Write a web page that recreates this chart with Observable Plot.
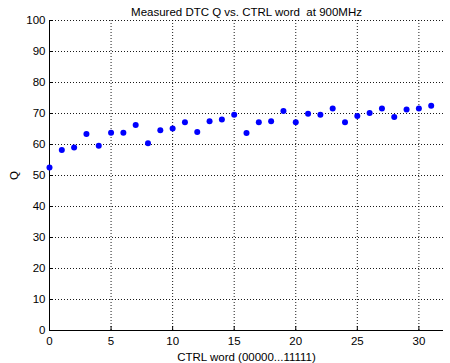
<!DOCTYPE html>
<html><head><meta charset="utf-8">
<script src="https://cdn.jsdelivr.net/npm/d3@7"></script>
<script src="https://cdn.jsdelivr.net/npm/@observablehq/plot@0.6"></script>
<style>body{margin:0;background:#fff;font-family:"Liberation Sans",Arial,sans-serif}</style>
</head><body><div id="c"></div>
<script>
const ctrlWord = d3.range(0, 32);
const qValues = [52.6,58.2,59.0,63.4,59.6,63.8,63.8,66.3,60.4,64.6,65.2,67.2,64.0,67.5,68.1,69.6,
                 63.7,67.2,67.5,70.8,67.2,69.9,69.6,71.6,67.2,69.2,70.2,71.6,68.9,71.3,71.6,72.5];
const xTicks = [0,5,10,15,20,25,30];
const yTicks = [0,10,20,30,40,50,60,70,80,90,100];
const title = "Measured DTC Q vs. CTRL word  at 900MHz";

const data = ctrlWord.map((x,i)=>({x, q:qValues[i]}));

const chart = Plot.plot({
  width: 450, height: 363,
  marginLeft: 49, marginRight: 7, marginTop: 20, marginBottom: 33,
  style: {fontFamily: '"Liberation Sans", Arial, sans-serif', fontSize: "11.5px", color: "#000", background: "#fff"},
  x: {domain: [0, 32], ticks: xTicks},
  y: {domain: [0, 100], ticks: yTicks},
  marks: [
    Plot.ruleY(yTicks.filter(d=>d>0), {stroke:"#000", strokeOpacity:0.9, strokeDasharray:"1,2", strokeWidth:1}),
    Plot.ruleX(xTicks.filter(d=>d>0), {stroke:"#000", strokeOpacity:0.9, strokeDasharray:"1,2", strokeWidth:1}),
    Plot.axisX({ticks: xTicks, tickSize: -4, tickPadding: 10, fontSize: 11.5, label: "CTRL word (00000...11111)", labelAnchor: "center", labelArrow: "none", labelOffset: 30}),
    Plot.axisY({ticks: yTicks, tickSize: -4, tickPadding: 8, fontSize: 11.5, label: "Q", labelAnchor: "center", labelArrow: "none", labelOffset: 40}),
    Plot.ruleY([0], {stroke:"#000"}),
    Plot.ruleX([0], {stroke:"#000"}),
    Plot.dot(data, {x:"x", y:"q", r:3, fill:"#0000ff", stroke:"none"}),
    Plot.text([title], {frameAnchor:"top", dy:-13, fontSize:11.5, text: d=>d})
  ]
});
document.getElementById("c").appendChild(chart);
</script>
</body></html>
